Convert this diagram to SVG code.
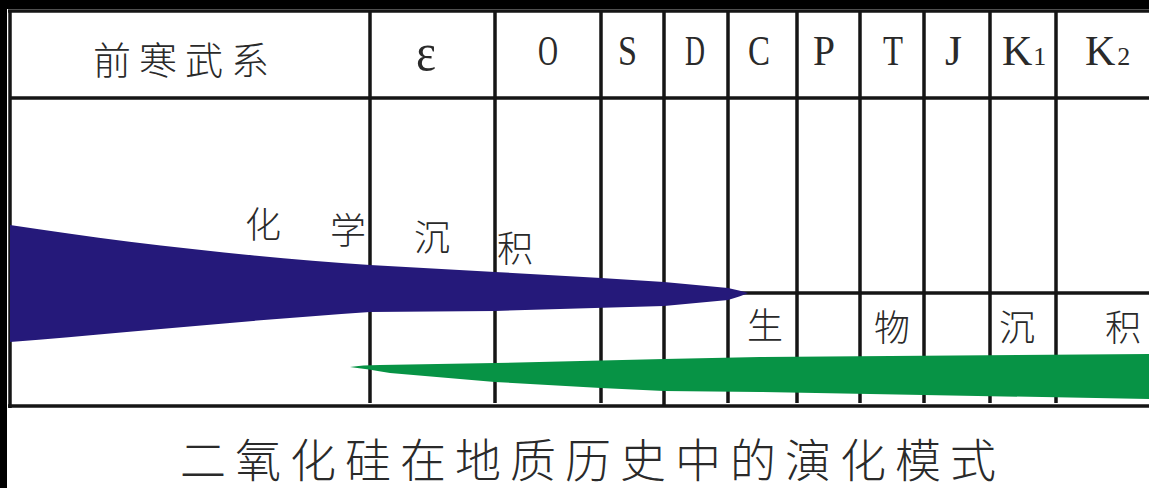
<svg xmlns="http://www.w3.org/2000/svg" width="1149" height="488" viewBox="0 0 1149 488">
<style>
.ln{stroke:#151515;stroke-width:3.5;fill:none}
.cn{font-family:"Noto Sans CJK SC","Noto Sans CJK JP",sans-serif;fill:#2a2a2a;font-weight:300}
.lt{font-family:"Liberation Serif",serif;fill:#2a2a2a;font-size:42px}
.sb{font-size:26px}
</style>
<rect x="0" y="0" width="1149" height="488" fill="#000"/>
<rect x="7" y="9" width="1142" height="479" fill="#fff"/>
<g id="grid">
<line class="ln" x1="8" y1="11" x2="1149" y2="11"/>
<line class="ln" x1="10" y1="10" x2="10" y2="408"/>
<line class="ln" x1="8" y1="406" x2="1149" y2="406"/>
<line class="ln" x1="10" y1="98" x2="1149" y2="98"/>
<line class="ln" x1="740" y1="293" x2="1149" y2="293"/>
<line class="ln" x1="370" y1="11" x2="370" y2="403"/>
<line class="ln" x1="495" y1="11" x2="495" y2="403"/>
<line class="ln" x1="601" y1="11" x2="601" y2="403"/>
<line class="ln" x1="664" y1="11" x2="664" y2="406"/>
<line class="ln" x1="728" y1="11" x2="728" y2="403"/>
<line class="ln" x1="797" y1="11" x2="797" y2="403"/>
<line class="ln" x1="860" y1="11" x2="860" y2="403"/>
<line class="ln" x1="924" y1="11" x2="924" y2="403"/>
<line class="ln" x1="990" y1="11" x2="990" y2="403"/>
<line class="ln" x1="1056" y1="11" x2="1056" y2="403"/>
</g>
<g id="chem-band">
<path fill="#25197a" d="M10,225 C 120,242 250,257 370,265 L 495,272 L 601,278 L 664,282 L 728,288 Q 742,291 748,293 Q 742,296 728,300 L 664,306 L 495,311 L 370,312 C 250,320 120,333 10,342 Z"/>
</g>
<g id="bio-band">
<path fill="#079345" d="M350,367 Q 362,365 380,365 L 495,363 L 664,359 L 760,357 L 1149,354 L 1149,399 L 760,392 L 664,391 L 601,388 L 495,382 L 390,373 Q 368,369 350,367 Z"/>
</g>
<g id="header">
<text class="cn" x="93" y="74" font-size="38" letter-spacing="8">前寒武系</text>
<text class="lt" x="416" y="70" font-size="52" textLength="20" lengthAdjust="spacingAndGlyphs" style="font-size:52px">ε</text>
<text class="lt" x="538" y="65" textLength="20" lengthAdjust="spacingAndGlyphs">O</text>
<text class="lt" x="618" y="65" textLength="19" lengthAdjust="spacingAndGlyphs">S</text>
<text class="lt" x="685" y="65" textLength="20" lengthAdjust="spacingAndGlyphs">D</text>
<text class="lt" x="748" y="65" textLength="22" lengthAdjust="spacingAndGlyphs">C</text>
<text class="lt" x="813" y="65" textLength="22" lengthAdjust="spacingAndGlyphs">P</text>
<text class="lt" x="883" y="65" textLength="20" lengthAdjust="spacingAndGlyphs">T</text>
<text class="lt" x="945" y="65" textLength="17" lengthAdjust="spacingAndGlyphs">J</text>
<text class="lt" x="1002" y="65">K<tspan class="sb" dx="1">1</tspan></text>
<text class="lt" x="1085" y="65">K<tspan class="sb" dx="2">2</tspan></text>
</g>
<g id="labels">
<text class="cn" font-size="36" text-anchor="middle" x="263" y="238">化</text>
<text class="cn" font-size="36" text-anchor="middle" x="348" y="244">学</text>
<text class="cn" font-size="36" text-anchor="middle" x="432" y="251">沉</text>
<text class="cn" font-size="36" text-anchor="middle" x="515" y="262">积</text>
<text class="cn" font-size="36" text-anchor="middle" x="765" y="339">生</text>
<text class="cn" font-size="36" text-anchor="middle" x="892" y="341">物</text>
<text class="cn" font-size="36" text-anchor="middle" x="1017" y="341">沉</text>
<text class="cn" font-size="36" text-anchor="middle" x="1123" y="341">积</text>
</g>
<g id="caption">
<text class="cn" x="180" y="477" font-size="46" letter-spacing="9">二氧化硅在地质历史中的演化模式</text>
</g>
</svg>
